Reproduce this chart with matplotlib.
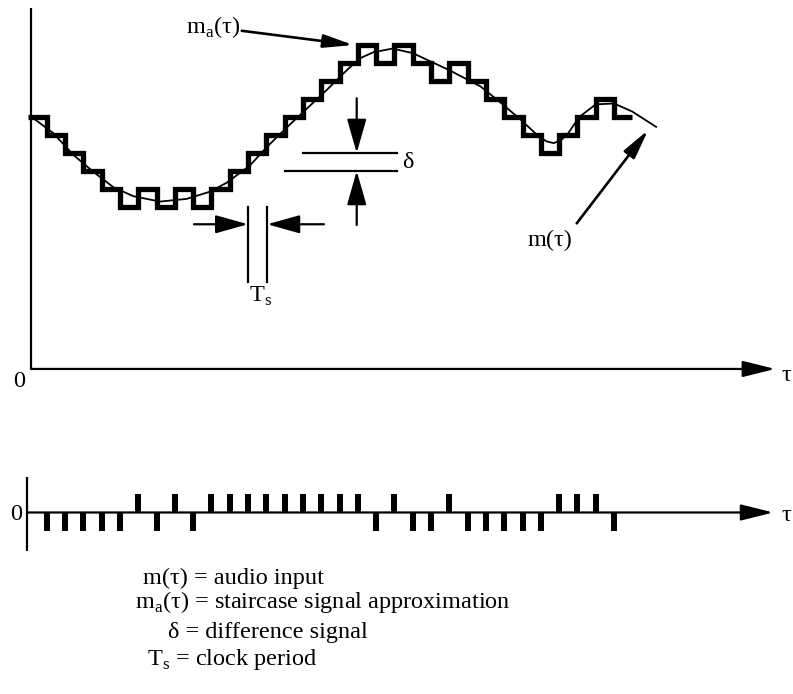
import numpy as np
import matplotlib
matplotlib.use('Agg')
from matplotlib import pyplot as plt

plt.rcParams['font.family'] = ['Liberation Serif', 'DejaVu Serif']
plt.rcParams['mathtext.fontset'] = 'custom'
plt.rcParams['mathtext.rm'] = 'Liberation Serif'

# delta modulator output bits, one per clock period (1 = step up, -1 = step down)
bits = [-1, -1, -1, -1, -1, 1, -1, 1, -1,
        1, 1, 1, 1, 1, 1, 1, 1, 1,
        -1, 1, -1, -1, 1,
        -1, -1, -1, -1, -1,
        1, 1, 1, -1]
clock_times = np.arange(1, len(bits) + 1)      # tau in units of Ts
start_level = 14                               # staircase start, in units of delta

# audio input m(tau)
curve_t = [0.18, 1.36, 2.45, 3.55, 4.64, 5.73, 7.19, 8.65, 9.92, 10.84, 12.1,
           13.0, 14.1, 15.2, 16.3, 17.4, 18.1, 18.85, 19.9, 21.0, 23.0, 24.7,
           25.8, 26.9, 27.8, 28.3, 28.7, 29.1, 29.5, 30.1, 31.0, 32.0, 33.0, 34.3]
curve_a = [14.0, 13.1, 11.9, 10.95, 10.1, 9.6, 9.3, 9.45, 9.85, 10.35, 11.3,
           12.3, 13.4, 14.45, 15.5, 16.6, 17.25, 17.6, 17.8, 17.55, 16.6, 15.7,
           14.8, 13.85, 13.0, 12.65, 12.55, 12.7, 13.1, 14.0, 14.7, 14.75, 14.3, 13.45]

legend_lines = ['m(\u03c4) = audio input',
                'm$_\\mathregular{a}$(\u03c4) = staircase signal approximation',
                '\u03b4 = difference signal',
                'T$_\\mathregular{s}$ = clock period']

levels = start_level + np.concatenate([[0], np.cumsum(bits)])
edges = np.arange(0, len(bits) + 2)

fig = plt.figure(figsize=(7.93, 6.94), dpi=100)
ax = fig.add_axes([0, 0, 1, 1])
ax.set_xlim(-1.552, 41.78)
ax.set_ylim(-18.06, 20.5)
ax.axis('off')

ax2 = fig.add_axes([0, 0.2003, 1, 0.1225])
ax2.set_xlim(-1.552, 41.78)
ax2.set_ylim(-2.24, 2.24)
ax2.axis('off')
ax2.patch.set_alpha(0)


def arrow(a, p0, p1, hl=1.0, hw=0.25, lw=1.6):
    a.annotate('', xy=p1, xytext=p0,
               arrowprops=dict(arrowstyle='-|>,head_length=%g,head_width=%g' % (hl, hw),
                               mutation_scale=20, lw=lw, color='k',
                               shrinkA=0, shrinkB=0))


FS = 17.5

# top plot axes
ax.plot([0.14, 0.14], [0, 20.05], color='k', lw=1.6, solid_capstyle='butt')
arrow(ax, (0.14, 0), (40.8, 0), hl=1.0, hw=0.25)
ax.text(12.7 / 793, 1 - 387 / 694, '0', transform=fig.transFigure, fontsize=FS)
ax.text(781 / 793, 1 - 381 / 694, '\u03c4', transform=fig.transFigure, fontsize=FS)

# staircase and audio curve
st = ax.stairs(levels, edges, baseline=None, color='k', lw=3.8)
st.set_joinstyle('miter')
ax.plot(curve_t, curve_a, color='k', lw=1.3)

# m_a label
ax.text(186 / 793, 1 - 33 / 694, 'm$_\\mathregular{a}$(\u03c4)', transform=fig.transFigure, fontsize=FS)
arrow(ax, (11.66, 18.79), (17.75, 18.0), hl=0.9, hw=0.2, lw=1.9)

# m label
ax.text(528 / 793, 1 - 246 / 694, 'm(\u03c4)', transform=fig.transFigure, fontsize=FS)
arrow(ax, (29.96, 8.09), (33.87, 13.28), hl=0.9, hw=0.2, lw=1.9)

# delta marker
ax.plot([15.02, 20.13], [12.0, 12.0], color='k', lw=1.6)
ax.plot([14.02, 20.13], [11.0, 11.0], color='k', lw=1.6)
arrow(ax, (17.94, 15.04), (17.94, 12.0), hl=1.05, hw=0.3)
arrow(ax, (17.94, 8.0), (17.94, 11.0), hl=1.05, hw=0.3)
ax.text(402 / 793, 1 - 168 / 694, '\u03b4', transform=fig.transFigure, fontsize=FS)

# Ts marker
ax.plot([12.0, 12.0], [8.98, 4.85], color='k', lw=1.6)
ax.plot([13.05, 13.05], [8.98, 4.85], color='k', lw=1.6)
arrow(ax, (9.05, 8.04), (12.0, 8.04), hl=1.0, hw=0.28)
arrow(ax, (16.15, 8.04), (13.05, 8.04), hl=1.0, hw=0.28)
ax.text(249 / 793, 1 - 302 / 694, 'T$_\\mathregular{s}$', transform=fig.transFigure, fontsize=FS)

# pulse train
ax2.plot([-0.06, -0.06], [1.88, -2.03], color='k', lw=1.6, solid_capstyle='butt')
arrow(ax2, (-0.06, 0), (40.7, 0), hl=1.0, hw=0.25)
ax2.vlines(clock_times, 0, bits, color='k', lw=4.3)
ax.text(10 / 793, 1 - 520 / 694, '0', transform=fig.transFigure, fontsize=FS)
ax.text(781 / 793, 1 - 521 / 694, '\u03c4', transform=fig.transFigure, fontsize=FS)

# legend text
leg_x = [143, 135, 168, 147]
leg_y = [584, 608, 638, 665]
for s, x, y in zip(legend_lines, leg_x, leg_y):
    fig.text(x / 793, 1 - y / 694, s, fontsize=FS)

plt.savefig('out.png', dpi=100)
